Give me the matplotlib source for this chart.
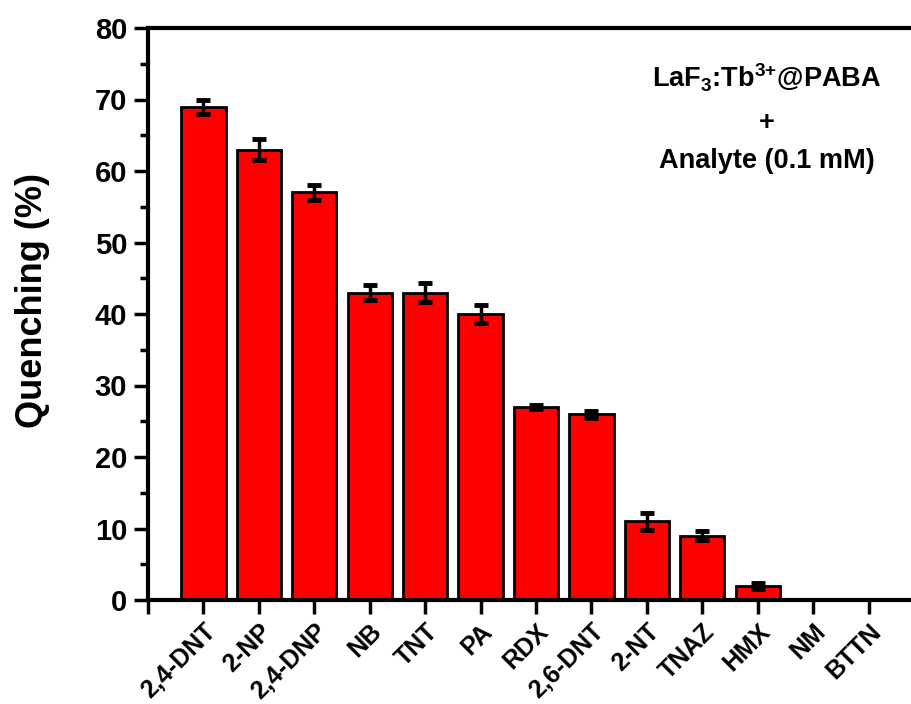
import matplotlib
matplotlib.use("Agg")
import matplotlib.pyplot as plt
from matplotlib.ticker import MultipleLocator
import numpy as np

analytes = ["2,4-DNT", "2-NP", "2,4-DNP", "NB", "TNT", "PA", "RDX",
            "2,6-DNT", "2-NT", "TNAZ", "HMX", "NM", "BTTN"]
quenching = [69, 63, 57, 43, 43, 40, 27, 26, 11, 9, 2, 0, 0]
errors = [1.0, 1.5, 1.1, 1.1, 1.3, 1.2, 0.3, 0.5, 1.2, 0.6, 0.4, 0, 0]

plt.rcParams["font.family"] = ["Liberation Sans", "DejaVu Sans"]
plt.rcParams["font.weight"] = "bold"
plt.rcParams["mathtext.fontset"] = "custom"
plt.rcParams["mathtext.rm"] = "Liberation Sans:bold"
plt.rcParams["mathtext.bf"] = "Liberation Sans:bold"
plt.rcParams["mathtext.it"] = "Liberation Sans:bold"

W, H = 911, 704
fig = plt.figure(figsize=(W / 100, H / 100), dpi=100)
ax = fig.add_axes([148 / W, 104 / H, (924 - 148) / W, 572 / H])

x = np.arange(1, len(analytes) + 1)
ax.bar(x, quenching, width=0.8, color="#ff0000", edgecolor="black",
       linewidth=2, zorder=2)
yerr = np.array(errors)
mask = np.array(quenching) > 0
ax.errorbar(x[mask], np.array(quenching)[mask], yerr=yerr[mask], fmt="none",
            ecolor="black", elinewidth=2.5, capsize=5, capthick=3.5, zorder=3)

ax.set_xlim(0, 14)
ax.set_ylim(0, 80)
ax.set_xticks(np.arange(0, 14))
ax.set_xticklabels([""] + analytes, rotation=45, ha="right",
                   rotation_mode="anchor", fontsize=18, fontweight="bold")
ax.yaxis.set_major_locator(MultipleLocator(10))
ax.yaxis.set_minor_locator(MultipleLocator(5))
ax.tick_params(axis="both", which="major", direction="out", length=10,
               width=2.5)
ax.tick_params(axis="y", which="major", labelsize=21, pad=5)
ax.tick_params(axis="x", which="major", pad=4)
ax.tick_params(axis="y", which="minor", direction="out", length=6, width=2.5)
for lab in ax.get_yticklabels():
    lab.set_fontweight("bold")

for side in ["left", "bottom", "top", "right"]:
    ax.spines[side].set_linewidth(3)

ax.set_ylabel("Quenching (%)", fontsize=26, fontweight="bold")
ax.yaxis.set_label_coords(-0.126, 0.524)

cx = 767 / W
fig.text(cx, 1 - 88 / H, r"LaF$_3$:Tb$^{3{+}}$@PABA", ha="center",
         va="baseline", fontsize=19.5, fontweight="bold")
fig.text(cx, 1 - 123 / H, "+", ha="center", va="center", fontsize=19.5,
         fontweight="bold")
fig.text(cx, 1 - 168 / H, "Analyte (0.1 mM)", ha="center", va="baseline",
         fontsize=19.5, fontweight="bold")

fig.savefig("out.png", dpi=100)
